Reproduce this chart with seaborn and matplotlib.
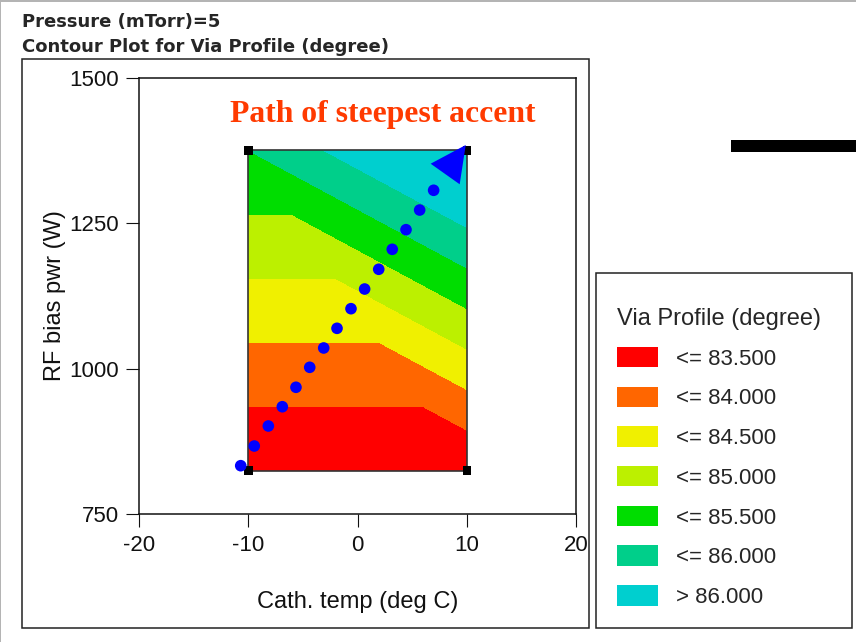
import matplotlib
matplotlib.use("Agg")
import numpy as np
import pandas as pd
import seaborn as sns
import matplotlib.pyplot as plt
import matplotlib.tri as mtri
from matplotlib.patches import Rectangle, Patch, FancyArrowPatch, ArrowStyle

# 2^2 factorial design: cathode temperature vs RF bias power, response = via profile
design_temp = [-10, 10, -10, 10]
design_power = [825, 825, 1375, 1375]
via_profile = [83.0, 83.0, 85.5, 86.95]
design_triangles = [[0, 1, 2], [1, 3, 2]]

contour_levels = [82.0, 83.5, 84.0, 84.5, 85.0, 85.5, 86.0, 88.0]
band_colors = ["#ff0000", "#ff6600", "#f0f000", "#bcf000",
               "#00dd00", "#00cf8a", "#00cfcf"]
band_labels = ["<= 83.500", "<= 84.000", "<= 84.500", "<= 85.000",
               "<= 85.500", "<= 86.000", "> 86.000"]

# steps along the path of steepest ascent
ascent_temp = [-10.71, -9.47, -8.18, -6.90, -5.65, -4.39, -3.11, -1.89,
               -0.61, 0.64, 1.93, 3.17, 4.43, 5.68, 6.96]
ascent_power = [833.5, 867.3, 901.7, 934.8, 968.2, 1002.5, 1035.7, 1069.5,
                1103.2, 1137.0, 1170.9, 1205.2, 1238.9, 1272.7, 1306.6]
ascent_tip = (9.90, 1384.4)

x_ticks = [-20, -10, 0, 10, 20]
y_ticks = [750, 1000, 1250, 1500]

sns.set_style("white")
plt.rcParams["font.family"] = ["Liberation Sans", "DejaVu Sans"]

W, H = 856, 642
fig = plt.figure(figsize=(W / 100, H / 100), dpi=100)


def fx(x):
    return x / W


def fy(y):
    return 1 - y / H


def frame(left, top, right, bottom, **kw):
    fig.add_artist(Rectangle((fx(left), fy(bottom)), fx(right) - fx(left),
                             fy(top) - fy(bottom), transform=fig.transFigure, **kw))


# window chrome
frame(0, 0, W, 2.3, facecolor="#b4b4b4", edgecolor="none")
frame(0, 0, 1.2, H, facecolor="#b4b4b4", edgecolor="none")
frame(21.7, 59.3, 589, 627.7, fill=False, edgecolor="#222222", linewidth=1.1)
frame(596, 272.7, 852, 628.3, fill=False, edgecolor="#222222", linewidth=1.1)
frame(730.7, 140, W + 2, 151.7, facecolor="black", edgecolor="none")

fig.text(fx(22), fy(26.7), "Pressure (mTorr)=5", family="DejaVu Sans",
         weight="bold", fontsize=13, va="baseline", ha="left")
fig.text(fx(22), fy(51.7), "Contour Plot for Via Profile (degree)",
         family="DejaVu Sans", weight="bold", fontsize=13, va="baseline", ha="left")

ax = fig.add_axes([fx(139.3), fy(514.3), fx(576) - fx(139.3), fy(77.7) - fy(514.3)])

tri = mtri.Triangulation(design_temp, design_power, triangles=design_triangles)
ax.tricontourf(tri, via_profile, levels=contour_levels, colors=band_colors)
ax.add_patch(Rectangle((min(design_temp), min(design_power)),
                       max(design_temp) - min(design_temp),
                       max(design_power) - min(design_power),
                       fill=False, edgecolor="#333333", linewidth=1.2, zorder=3))

design_df = pd.DataFrame({"temp": design_temp, "power": design_power})
sns.scatterplot(data=design_df, x="temp", y="power", marker="s", s=36,
                color="black", edgecolor="none", ax=ax, zorder=4)

ascent_df = pd.DataFrame({"temp": ascent_temp, "power": ascent_power})
sns.scatterplot(data=ascent_df, x="temp", y="power", marker="o", s=70,
                color="#0000ff", edgecolor="none", ax=ax, zorder=5)

ax.add_patch(FancyArrowPatch((ascent_temp[-1], ascent_power[-1]), ascent_tip,
                             arrowstyle=ArrowStyle("-|>", head_length=25.6, head_width=12.8),
                             mutation_scale=1, color="#0000ff", linewidth=0,
                             shrinkA=0, shrinkB=0, zorder=6))

ax.text(-11.69, 1424.4, "Path of steepest accent", family="Liberation Serif",
        weight="bold", fontsize=22.8, color="#ff3a00", va="baseline", ha="left")

ax.set_xlim(-20, 20)
ax.set_ylim(750, 1500)
ax.set_xticks(x_ticks)
ax.set_yticks(y_ticks)
ax.set_xticklabels([str(t) for t in x_ticks])
ax.set_yticklabels([str(t) for t in y_ticks])
ax.tick_params(axis="both", direction="out", length=9.4, width=0.8,
               labelsize=16, colors="#111111", left=True, bottom=True)
ax.tick_params(axis="x", pad=5.8)
ax.tick_params(axis="y", pad=5.3)
for sp in ax.spines.values():
    sp.set_visible(True)
    sp.set_color("#111111")
    sp.set_linewidth(1.1)

ax.set_xlabel("Cath. temp (deg C)", fontsize=17, color="#111111")
ax.set_ylabel("RF bias pwr (W)", fontsize=17, color="#111111")
ax.xaxis.set_label_coords(0.5, -0.175)
ax.yaxis.set_label_coords(-0.168, 0.5)

handles = [Patch(facecolor=c, edgecolor="none") for c in band_colors]
fig.legend(handles, band_labels, title="Via Profile (degree)",
           loc="upper left", bbox_to_anchor=(fx(617), fy(308)),
           frameon=False, fontsize=16, title_fontsize=17,
           handlelength=1.85, handleheight=1.04, handletextpad=0.8,
           labelspacing=0.76, borderpad=0, borderaxespad=0, alignment="left")

fig.savefig("out.png", dpi=100, facecolor="white")
